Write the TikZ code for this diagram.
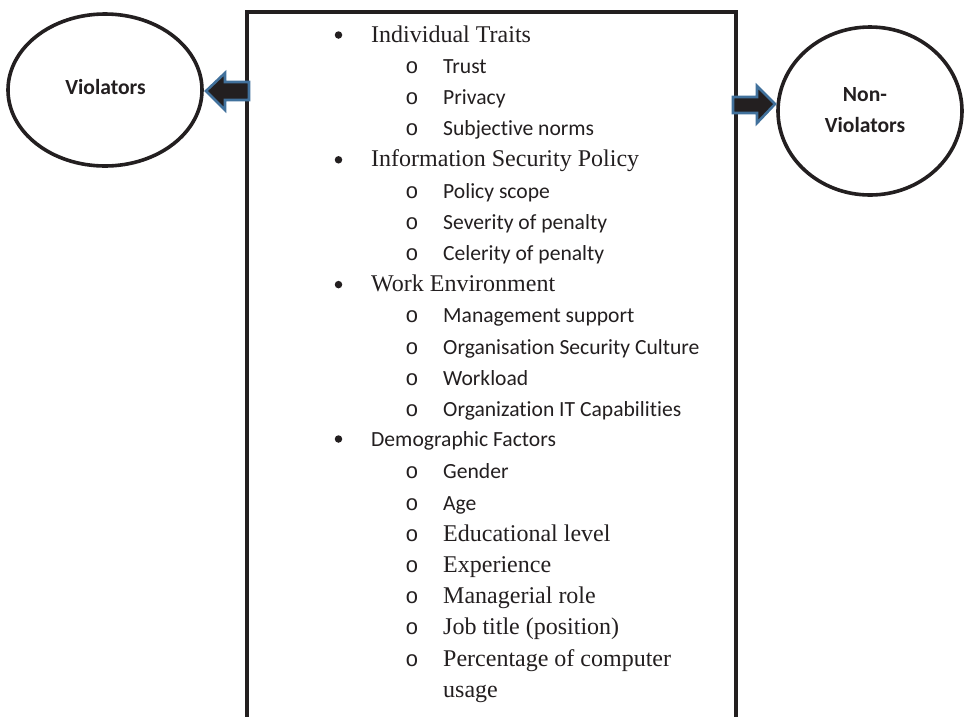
\documentclass[tikz,border=0pt]{standalone}
\usepackage{fontspec}
\setmainfont{Liberation Serif}
\newfontfamily\calfont[Ligatures=CommonOff]{Carlito}
\newfontfamily\monofont{Liberation Mono}
\definecolor{ink}{RGB}{35,31,32}
\definecolor{arrowblue}{RGB}{65,113,156}
\begin{document}
\begin{tikzpicture}[x=1pt,y=-1pt,
  txt/.style={anchor=base west,inner sep=0pt,text=ink},
  tnr/.style={txt,font=\fontsize{24}{24}\selectfont},
  cal/.style={txt,font=\calfont\fontsize{21.6}{21.6}\selectfont},
  bul/.style={circle,fill=ink,inner sep=0pt,minimum size=7.5pt},
  sub/.style={anchor=base,inner sep=0pt,text=ink,font=\monofont\fontsize{22}{22}\selectfont},
  blockarrow/.style={fill=ink,draw=arrowblue,line width=2.6pt,line join=miter}
]
\useasboundingbox (0,0) rectangle (964,716);
\fill[white] (0,0) rectangle (964,716);

% box
\draw[ink,line width=4pt] (247,720) -- (247,12) -- (736,12) -- (736,720);

% ellipses
\draw[ink,line width=3.6pt] (105,90) ellipse [x radius=97,y radius=76];
\draw[ink,line width=3.6pt] (870,111) ellipse [x radius=92,y radius=84];
\node[inner sep=0pt,text=ink,font=\calfont\bfseries\fontsize{21.6}{21.6}\selectfont] (viol) at (105.5,87) {Violators};
\node[inner sep=0pt,text=ink,font=\calfont\bfseries\fontsize{21.6}{31}\selectfont,align=center] (nonviol) at (865,110) {Non-\\Violators};

% block arrows
\draw[blockarrow] (249,82) -- (225,82) -- (225,73) -- (206,91) -- (225,110) -- (225,100) -- (249,100) -- cycle;
\draw[blockarrow] (733,97) -- (757,97) -- (757,86) -- (775,104) -- (757,123) -- (757,113) -- (733,113) -- cycle;

% list
\def\bx{338.5}
\def\ox{412}
\def\tx{371}
\def\sx{443}
\node[bul] (b1) at (\bx,42-7) {};
\node[tnr] (h1) at (\tx,42) {Individual Traits};
\node[sub] (o1) at (\ox,73.2) {o}; \node[cal] (t1) at (\sx,73.2) {Trust};
\node[sub] (o2) at (\ox,104.4) {o}; \node[cal] (t2) at (\sx,104.4) {Privacy};
\node[sub] (o3) at (\ox,135.6) {o}; \node[cal] (t3) at (\sx,135.6) {Subjective norms};
\node[bul] (b2) at (\bx,166.8-7) {};
\node[tnr] (h2) at (\tx,166.8) {Information Security Policy};
\node[sub] (o4) at (\ox,198) {o}; \node[cal] (t4) at (\sx,198) {Policy scope};
\node[sub] (o5) at (\ox,229.2) {o}; \node[cal] (t5) at (\sx,229.2) {Severity of penalty};
\node[sub] (o6) at (\ox,260.4) {o}; \node[cal] (t6) at (\sx,260.4) {Celerity of penalty};
\node[bul] (b3) at (\bx,291.6-7) {};
\node[tnr] (h3) at (\tx,291.6) {Work Environment};
\node[sub] (o7) at (\ox,322.8) {o}; \node[cal] (t7) at (\sx,322.8) {Management support};
\node[sub] (o8) at (\ox,354) {o}; \node[cal] (t8) at (\sx,354) {Organisation Security Culture};
\node[sub] (o9) at (\ox,385.2) {o}; \node[cal] (t9) at (\sx,385.2) {Workload};
\node[sub] (o10) at (\ox,416.4) {o}; \node[cal] (t10) at (\sx,416.4) {Organization IT Capabilities};
\node[bul] (b4) at (\bx,446.5-7.5) {};
\node[cal] (h4) at (\tx,446.5) {Demographic Factors};
\node[sub] (o11) at (\ox,478.8) {o}; \node[cal] (t11) at (\sx,478.8) {Gender};
\node[sub] (o12) at (\ox,510) {o}; \node[cal] (t12) at (\sx,510) {Age};
\node[sub] (o13) at (\ox,541.2) {o}; \node[tnr] (t13) at (\sx,541.2) {Educational level};
\node[sub] (o14) at (\ox,572.4) {o}; \node[tnr] (t14) at (\sx,572.4) {Experience};
\node[sub] (o15) at (\ox,603.6) {o}; \node[tnr] (t15) at (\sx,603.6) {Managerial role};
\node[sub] (o16) at (\ox,634.8) {o}; \node[tnr] (t16) at (\sx,634.8) {Job title (position)};
\node[sub] (o17) at (\ox,666) {o}; \node[tnr] (t17) at (\sx,666) {Percentage of computer};
\node[tnr] (t18) at (\sx,697.2) {usage};
\end{tikzpicture}
\end{document}
